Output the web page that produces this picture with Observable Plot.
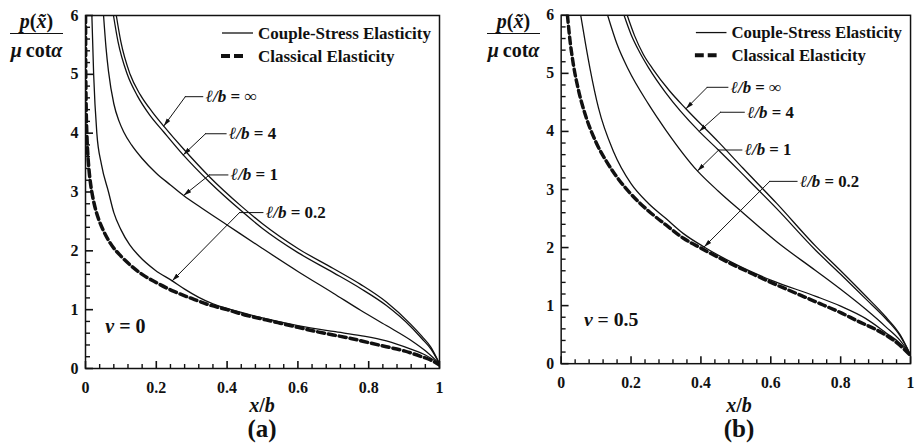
<!DOCTYPE html>
<html><head><meta charset="utf-8">
<script src="https://cdn.jsdelivr.net/npm/d3@7"></script>
<script src="https://cdn.jsdelivr.net/npm/@observablehq/plot@0.6"></script>
<style>
html,body{margin:0;padding:0;background:#fff;width:914px;height:447px;overflow:hidden;}
#wrap{position:relative;width:914px;height:447px;overflow:hidden;font-family:"Liberation Serif","Times New Roman",serif;color:#111;}
.panel{position:absolute;top:0;}
.lab{position:absolute;font-weight:bold;white-space:nowrap;line-height:1;text-align:center;}
.fracline{position:absolute;height:0;border-top:1.2px solid #111;}
</style></head><body><div id="wrap"></div>
<script>
// ---- axis ticks & labels ----
const X_MAJOR = [0, 0.2, 0.4, 0.6, 0.8, 1];
const X_LABELS = ["0", "0.2", "0.4", "0.6", "0.8", "1"];
const X_MINOR = [0.04,0.08,0.12,0.16,0.24,0.28,0.32,0.36,0.44,0.48,0.52,0.56,0.64,0.68,0.72,0.76,0.84,0.88,0.92,0.96];
const Y_MAJOR = [0, 1, 2, 3, 4, 5, 6];
const Y_LABELS = ["0", "1", "2", "3", "4", "5", "6"];
const Y_MINOR = [0.2,0.4,0.6,0.8,1.2,1.4,1.6,1.8,2.2,2.4,2.6,2.8,3.2,3.4,3.6,3.8,4.2,4.4,4.6,4.8,5.2,5.4,5.6,5.8];
const SERIES_NAMES = ["ℓ/b = ∞", "ℓ/b = 4", "ℓ/b = 1", "ℓ/b = 0.2"];
const LEGEND_LABELS = ["Couple-Stress Elasticity", "Classical Elasticity"];
const PANEL_TAGS = ["(a)", "(b)"];
const NU_LABELS = ["ν = 0", "ν = 0.5"];

// ---- panel (a), nu = 0 : [x/b, p/(mu cot a)] ----
const a_inf = [[0.087,6.0],[0.1,5.55],[0.126,5.0],[0.155,4.65],[0.19,4.35],[0.221,4.12],[0.277,3.73],[0.35,3.26],[0.44,2.76],[0.5,2.46],[0.6,2.04],[0.7,1.7],[0.777,1.43],[0.85,1.13],[0.919,0.75],[0.95,0.55],[0.976,0.36],[1.0,0.08]];
const a_4 = [[0.079,6.0],[0.092,5.55],[0.118,5.0],[0.147,4.63],[0.18,4.32],[0.221,4.02],[0.276,3.63],[0.35,3.17],[0.44,2.68],[0.5,2.38],[0.6,1.97],[0.7,1.63],[0.777,1.36],[0.85,1.07],[0.919,0.71],[0.95,0.51],[0.976,0.33],[1.0,0.08]];
const a_1 = [[0.051,6.0],[0.058,5.45],[0.065,5.05],[0.08,4.5],[0.095,4.2],[0.108,4.02],[0.13,3.8],[0.16,3.57],[0.2,3.32],[0.24,3.12],[0.277,2.94],[0.33,2.72],[0.4,2.44],[0.5,2.04],[0.6,1.65],[0.7,1.28],[0.777,0.99],[0.85,0.73],[0.919,0.48],[0.96,0.3],[1.0,0.08]];
const a_02 = [[0.018,6.0],[0.023,5.0],[0.032,4.0],[0.045,3.47],[0.065,3.0],[0.08,2.65],[0.1,2.36],[0.125,2.1],[0.15,1.92],[0.197,1.67],[0.245,1.49],[0.28,1.35],[0.32,1.21],[0.36,1.1],[0.4,1.02],[0.5,0.86],[0.6,0.73],[0.7,0.63],[0.777,0.56],[0.85,0.47],[0.919,0.33],[0.96,0.23],[1.0,0.08]];
const a_classical = [[0.00016,6.0],[0.0005,5.28],[0.001,4.84],[0.002,4.4],[0.004,3.96],[0.007,3.6],[0.01,3.37],[0.015,3.11],[0.02,2.93],[0.03,2.67],[0.04,2.49],[0.05,2.35],[0.07,2.13],[0.1,1.91],[0.13,1.74],[0.16,1.6],[0.2,1.46],[0.25,1.31],[0.3,1.19],[0.35,1.08],[0.4,1.0],[0.45,0.91],[0.5,0.84],[0.55,0.77],[0.6,0.7],[0.65,0.63],[0.7,0.57],[0.75,0.51],[0.8,0.44],[0.85,0.37],[0.9,0.3],[0.95,0.2],[0.98,0.13],[1.0,0.06]];
const a_noteText = [[0.334,4.62],[0.400,3.99],[0.405,3.29],[0.504,2.65]];
const a_noteElbow = [0.282,0.339,0.350,0.435];
const a_noteTip = [[0.221,4.12],[0.276,3.63],[0.277,2.94],[0.245,1.49]];
const a_nuPos = [0.056, 0.71];

// ---- panel (b), nu = 0.5 ----
const b_inf = [[0.189,6.0],[0.21,5.65],[0.235,5.33],[0.263,5.07],[0.31,4.7],[0.357,4.39],[0.45,3.82],[0.52,3.37],[0.617,2.76],[0.729,2.02],[0.8,1.6],[0.871,1.17],[0.93,0.8],[0.97,0.5],[1.0,0.15]];
const b_4 = [[0.18,6.0],[0.2,5.67],[0.225,5.36],[0.25,5.1],[0.3,4.66],[0.395,4.0],[0.45,3.68],[0.52,3.26],[0.617,2.67],[0.729,1.95],[0.8,1.54],[0.871,1.12],[0.93,0.77],[0.97,0.48],[1.0,0.15]];
const b_1 = [[0.133,6.0],[0.16,5.5],[0.192,5.07],[0.25,4.47],[0.3,4.02],[0.39,3.32],[0.45,2.97],[0.52,2.6],[0.617,2.1],[0.729,1.6],[0.8,1.28],[0.871,0.94],[0.93,0.63],[0.97,0.4],[1.0,0.15]];
const b_02 = [[0.056,6.0],[0.07,5.5],[0.083,5.07],[0.107,4.4],[0.15,3.65],[0.2,3.1],[0.25,2.76],[0.3,2.5],[0.35,2.24],[0.409,2.01],[0.5,1.71],[0.6,1.44],[0.729,1.16],[0.8,0.99],[0.871,0.78],[0.93,0.53],[0.97,0.35],[1.0,0.15]];
const b_classical = [[0.018,6.0],[0.025,5.58],[0.035,5.15],[0.05,4.7],[0.07,4.27],[0.1,3.81],[0.13,3.48],[0.16,3.21],[0.2,2.92],[0.25,2.63],[0.3,2.39],[0.35,2.16],[0.4,1.99],[0.45,1.83],[0.5,1.68],[0.55,1.54],[0.6,1.4],[0.65,1.27],[0.7,1.14],[0.75,1.01],[0.8,0.88],[0.85,0.73],[0.9,0.59],[0.95,0.41],[0.98,0.26],[1.0,0.14]];
const b_noteText = [[0.480,4.76],[0.527,4.33],[0.520,3.68],[0.678,3.14]];
const b_noteElbow = [0.418,0.456,0.451,0.597];
const b_noteTip = [[0.357,4.39],[0.395,4.0],[0.390,3.32],[0.409,2.01]];
const b_nuPos = [0.065, 0.76];

const wrap = document.getElementById("wrap");
const H = 447, MT = 15, MB = 79, W = 460, PW = 354, PH = H - MT - MB;

function mixItalic(sel, prefix) {
  sel.each(function () {
    const t = this.textContent;
    if (!t.startsWith(prefix)) return;
    const node = d3.select(this);
    node.text(null);
    node.append("tspan").attr("font-style", "italic").text(prefix);
    node.append("tspan").text(t.slice(prefix.length));
  });
}

function makePanel(k, cfg) {
  const rows = [];
  cfg.curves.forEach((pts, i) => pts.forEach(([x, y]) => rows.push({x, y, s: SERIES_NAMES[i]})));
  const cl = cfg.classical.map(([x, y]) => ({x, y}));
  const notes = SERIES_NAMES.map((label, i) => ({
    label, tx: cfg.noteText[i][0], ty: cfg.noteText[i][1], ex: cfg.noteElbow[i],
    px: cfg.noteTip[i][0], py: cfg.noteTip[i][1]
  }));
  const nu = [{x: cfg.nuPos[0], y: cfg.nuPos[1], label: NU_LABELS[k]}];
  const xl = new Map(X_MAJOR.map((d, i) => [d, X_LABELS[i]]));
  const yl = new Map(Y_MAJOR.map((d, i) => [d, Y_LABELS[i]]));
  // inward tick lengths (7.5px major / 4.5px minor) in data units of the frame
  const tx = {maj: 7.5 / PW, min: 4.5 / PW}, ty = {maj: 7.5 * 6 / PH, min: 4.5 * 6 / PH};
  const svg = Plot.plot({
    width: W, height: H, marginTop: MT, marginBottom: MB, marginLeft: cfg.ml, marginRight: W - cfg.ml - PW,
    x: {domain: [0, 1]}, y: {domain: [0, 6]},
    style: {fontFamily: "'Liberation Serif', 'Times New Roman', serif", color: "#111", background: "transparent"},
    marks: [
      Plot.line(cl, {x: "x", y: "y", stroke: "#111", strokeWidth: 3.5, strokeDasharray: "7,4", curve: "monotone-x", clip: true}),
      Plot.line(rows, {x: "x", y: "y", z: "s", stroke: "#111", strokeWidth: 1.3, curve: "monotone-x", clip: true}),
      Plot.link(X_MINOR, {x1: d => d, x2: d => d, y1: () => 0, y2: () => ty.min, stroke: "#111", strokeWidth: 1.4}),
      Plot.link(X_MAJOR, {x1: d => d, x2: d => d, y1: () => 0, y2: () => ty.maj, stroke: "#111", strokeWidth: 1.6}),
      Plot.link(Y_MINOR, {y1: d => d, y2: d => d, x1: () => 0, x2: () => tx.min, stroke: "#111", strokeWidth: 1.4}),
      Plot.link(Y_MAJOR, {y1: d => d, y2: d => d, x1: () => 0, x2: () => tx.maj, stroke: "#111", strokeWidth: 1.6}),
      Plot.ruleY(notes, {y: "ty", x1: "ex", x2: "tx", stroke: "#111", strokeWidth: 1}),
      Plot.arrow(notes, {x1: "ex", y1: "ty", x2: "px", y2: "py", stroke: "#111", strokeWidth: 1, headLength: 0}),
      Plot.text(notes, {x: "tx", y: "ty", text: "label", textAnchor: "start", dx: 2, fontSize: 17, fontWeight: "bold", fill: "#111"}),
      Plot.text(nu, {x: "x", y: "y", text: "label", textAnchor: "start", fontSize: 20, fontWeight: "bold", fill: "#111"}),
      Plot.frame({stroke: "#111", strokeWidth: 1.5}),
      Plot.axisX(X_MAJOR, {tickSize: 0, tickPadding: 13, tickFormat: d => xl.get(d), fontSize: 16, fontWeight: "bold", label: null}),
      Plot.axisY(Y_MAJOR, {tickSize: 0, tickPadding: 7, tickFormat: d => yl.get(d), fontSize: 16, fontWeight: "bold", label: null})
    ]
  });
  const s = d3.select(svg);
  const id = "ah" + k;
  s.append("defs").append("marker").attr("id", id).attr("viewBox", "0 0 10 10")
    .attr("refX", 10).attr("refY", 5).attr("markerWidth", 8).attr("markerHeight", 8)
    .attr("markerUnits", "userSpaceOnUse").attr("orient", "auto")
    .append("path").attr("d", "M0,2.3L10,5L0,7.7Z").attr("fill", "#111");
  s.selectAll('g[aria-label="arrow"] path').attr("marker-end", `url(#${id})`);
  const texts = s.selectAll('g[aria-label="text"] text');
  mixItalic(texts, "ℓ/b");
  mixItalic(texts, "ν");
  // legend (inside plot frame, top right)
  const lx = cfg.ml + 137;
  const g = s.append("g").attr("font-size", 17).attr("font-weight", "bold").attr("fill", "#111").attr("text-anchor", "start");
  g.append("line").attr("x1", lx).attr("x2", lx + 31).attr("y1", 33).attr("y2", 33).attr("stroke", "#111").attr("stroke-width", 1.3);
  g.append("line").attr("x1", lx - 1).attr("x2", lx + 23).attr("y1", 56).attr("y2", 56).attr("stroke", "#111").attr("stroke-width", 4).attr("stroke-dasharray", "9,4");
  g.append("text").attr("x", lx + 36).attr("y", 33).attr("dy", "0.33em").text(LEGEND_LABELS[0]);
  g.append("text").attr("x", lx + 36).attr("y", 56).attr("dy", "0.33em").text(LEGEND_LABELS[1]);

  const div = document.createElement("div");
  div.className = "panel";
  div.style.left = cfg.left + "px";
  div.appendChild(svg);
  wrap.appendChild(div);

  const lxp = cfg.left + cfg.ml - 75;
  const top = document.createElement("div");
  top.className = "lab"; top.style.left = lxp + "px"; top.style.width = "53px"; top.style.top = "11px"; top.style.fontSize = "20px";
  top.innerHTML = '<i>p</i>(<i>x\u0303</i>)';
  wrap.appendChild(top);
  const ln = document.createElement("div");
  ln.className = "fracline"; ln.style.left = lxp + "px"; ln.style.width = "53px"; ln.style.top = "33px";
  wrap.appendChild(ln);
  const bot = document.createElement("div");
  bot.className = "lab"; bot.style.left = lxp + "px"; bot.style.width = "53px"; bot.style.top = "40px"; bot.style.fontSize = "20px";
  bot.innerHTML = '<i>μ</i>&thinsp;cot<i>α</i>';
  wrap.appendChild(bot);
  const cx = cfg.left + cfg.ml + PW / 2;
  const xt = document.createElement("div");
  xt.className = "lab"; xt.style.left = (cx - 40) + "px"; xt.style.width = "80px"; xt.style.top = "395px"; xt.style.fontSize = "20px";
  xt.innerHTML = '<i>x</i>/<i>b</i>';
  wrap.appendChild(xt);
  const tgd = document.createElement("div");
  tgd.className = "lab"; tgd.style.left = (cx - 40) + "px"; tgd.style.width = "80px"; tgd.style.top = "416px"; tgd.style.fontSize = "25px";
  tgd.textContent = PANEL_TAGS[k];
  wrap.appendChild(tgd);
}

makePanel(0, {left: 0, ml: 85, curves: [a_inf, a_4, a_1, a_02], classical: a_classical,
  noteText: a_noteText, noteElbow: a_noteElbow, noteTip: a_noteTip, nuPos: a_nuPos});
makePanel(1, {left: 460, ml: 102, curves: [b_inf, b_4, b_1, b_02], classical: b_classical,
  noteText: b_noteText, noteElbow: b_noteElbow, noteTip: b_noteTip, nuPos: b_nuPos});
</script>
</body></html>
